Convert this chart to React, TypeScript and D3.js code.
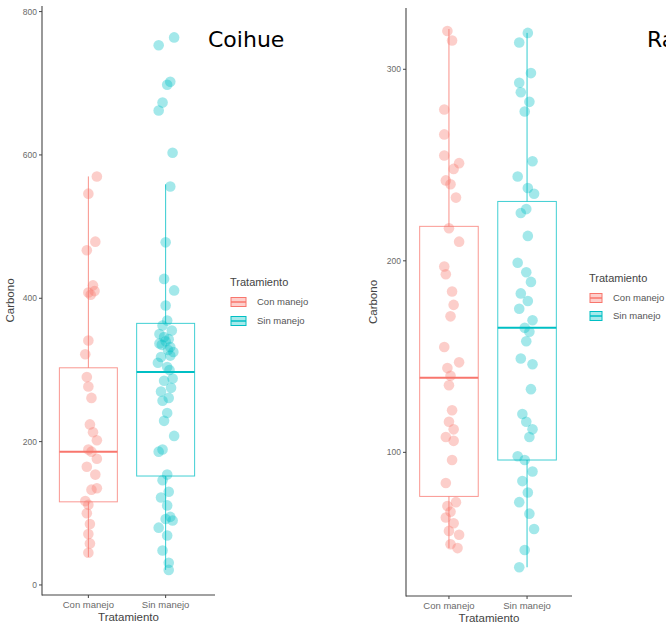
import React from "react";
import * as d3 from "d3";

const categories = ["Con manejo", "Sin manejo"];
const colors = ["#F8766D", "#00BFC4"];

// Coihue panel
const coihueTicks = [0, 200, 400, 600, 800];
const coihueQ1 = [116, 152];
const coihueMedian = [186, 297];
const coihueQ3 = [303, 365];
const coihueLow = [39, 21];
const coihueHigh = [570, 559];
const coihueConValues = [570, 546, 479, 467, 418, 410, 405, 408, 341, 322, 290, 277, 261, 224, 213, 202, 189, 186, 176, 165, 154, 135, 133, 117, 112, 100, 85, 71, 58, 45];
const coihueConJitter = [0.11, 0, 0.09, -0.02, 0.06, 0.08, 0.03, 0, 0, -0.04, -0.02, 0, 0.04, 0.02, 0.06, 0.11, 0, 0.04, 0.11, -0.02, 0.09, 0.11, 0.04, -0.04, 0, -0.02, 0.02, 0, 0.02, 0];
const coihueSinValues = [764, 753, 702, 698, 673, 662, 603, 556, 478, 427, 411, 390, 369, 362, 355, 350, 346, 343, 340, 337, 335, 332, 328, 325, 320, 318, 310, 304, 300, 288, 285, 275, 270, 261, 257, 240, 229, 208, 189, 186, 154, 146, 130, 122, 111, 95, 92, 90, 80, 69, 48, 31, 21];
const coihueSinJitter = [0.11, -0.09, 0.06, 0.02, -0.04, -0.09, 0.09, 0.06, 0, -0.02, 0.11, 0, 0.02, -0.04, 0.08, -0.08, -0.02, 0.04, 0, -0.08, -0.05, 0.06, 0.03, 0.1, 0.06, -0.06, -0.1, 0.02, 0.05, 0.09, -0.02, 0.07, -0.06, 0.04, -0.04, 0.02, -0.02, 0.11, -0.04, -0.09, 0.02, -0.04, 0.04, -0.06, 0.02, 0.06, 0, 0.09, -0.09, 0.02, -0.04, 0.04, 0.04];

// Raulí panel
const rauliTicks = [100, 200, 300];
const rauliQ1 = [77, 96];
const rauliMedian = [139, 165];
const rauliQ3 = [218, 231];
const rauliLow = [50, 40];
const rauliHigh = [321, 319];
const rauliConValues = [320, 315, 279, 266, 255, 251, 248, 242, 240, 233, 217, 210, 197, 193, 184, 177, 171, 155, 147, 144, 140, 135, 122, 116, 112, 108, 106, 96, 84, 74, 72, 69, 66, 63, 59, 57, 52, 50];
const rauliConJitter = [-0.02, 0.04, -0.06, -0.06, -0.06, 0.13, 0.06, -0.04, 0.02, 0.09, 0, 0.13, -0.06, -0.04, 0.04, 0.06, 0.02, -0.06, 0.13, -0.02, 0.02, 0, 0.04, 0, 0.06, -0.04, 0.06, 0.04, -0.04, 0.09, -0.02, 0.02, -0.04, 0.06, 0, 0.13, 0.02, 0.11];
const rauliSinValues = [319, 314, 298, 293, 288, 283, 278, 252, 244, 238, 235, 227, 225, 213, 199, 194, 189, 183, 179, 175, 169, 165, 163, 158, 149, 146, 133, 120, 116, 112, 108, 98, 96, 90, 85, 79, 74, 68, 60, 49, 40];
const rauliSinJitter = [0.01, -0.1, 0.05, -0.1, -0.08, 0.03, -0.03, 0.07, -0.12, 0.01, 0.09, -0.01, -0.08, 0.01, -0.12, -0.01, 0.05, -0.08, 0.01, -0.1, 0.07, -0.03, 0.03, -0.01, -0.08, 0.07, 0.05, -0.06, -0.01, 0.07, 0.03, -0.12, -0.03, 0.07, -0.06, 0.01, -0.1, 0.03, 0.09, -0.03, -0.1];

const FONT = "'Liberation Sans', Arial, sans-serif";

type PanelProps = {
  title: string;
  titleX: number;
  axisLeft: number;
  axisRight: number;
  xRange: [number, number];
  xPadding: number;
  yDomain: [number, number];
  yRange: [number, number];
  axisTop: number;
  ticks: number[];
  q1: number[];
  med: number[];
  q3: number[];
  low: number[];
  high: number[];
  values: number[][];
  jitter: number[][];
  yTitleX: number;
  legendX: number;
  legendY: number;
  legendGap: number;
  keyW: number;
  labelX: number;
};

function Panel(p: PanelProps) {
  const x = d3.scalePoint<string>().domain(categories).range(p.xRange).padding(p.xPadding);
  const y = d3.scaleLinear().domain(p.yDomain).range(p.yRange);
  const step = x.step();
  const halfBox = step * 0.375;
  const bottom = p.yRange[0];
  const midX = (p.axisLeft + p.axisRight) / 2;
  return (
    <g>
      <g filter="url(#soft)">
        {categories.map((c, i) => {
          const cx = x(c)!;
          return (
            <g key={c}>
              <line x1={cx} x2={cx} y1={y(p.high[i])} y2={y(p.q3[i])} stroke={colors[i]} strokeOpacity={0.8} strokeWidth={1} />
              <line x1={cx} x2={cx} y1={y(p.q1[i])} y2={y(p.low[i])} stroke={colors[i]} strokeOpacity={0.8} strokeWidth={1} />
              <rect x={cx - halfBox} width={halfBox * 2} y={y(p.q3[i])} height={y(p.q1[i]) - y(p.q3[i])} fill="none" stroke={colors[i]} strokeOpacity={0.75} strokeWidth={1} />
              <line x1={cx - halfBox} x2={cx + halfBox} y1={y(p.med[i])} y2={y(p.med[i])} stroke={colors[i]} strokeWidth={2} />
            </g>
          );
        })}
        {categories.map((c, i) => (
          <g key={"pts" + c}>
            {p.values[i].map((v, j) => (
              <circle key={j} cx={x(c)! + p.jitter[i][j] * step} cy={y(v)} r={5.3} fill={colors[i]} fillOpacity={0.36} />
            ))}
          </g>
        ))}
      </g>
      {/* axes */}
      <line x1={p.axisLeft} x2={p.axisLeft} y1={p.axisTop} y2={bottom + 0.5} stroke="#444" strokeWidth={1.1} />
      <line x1={p.axisLeft} x2={p.axisRight} y1={bottom} y2={bottom} stroke="#444" strokeWidth={1.1} />
      {p.ticks.map((t) => (
        <g key={t}>
          <line x1={p.axisLeft - 3} x2={p.axisLeft} y1={y(t)} y2={y(t)} stroke="#444" />
          <text x={p.axisLeft - 5} y={y(t)} dy="0.35em" textAnchor="end" fontSize={8.5} fill="#6a6a6a" fontFamily={FONT}>{t}</text>
        </g>
      ))}
      {categories.map((c) => (
        <g key={"xt" + c}>
          <line x1={x(c)} x2={x(c)} y1={bottom} y2={bottom + 3} stroke="#444" />
          <text x={x(c)} y={bottom + 12.5} textAnchor="middle" fontSize={9.5} fill="#6a6a6a" fontFamily={FONT}>{c}</text>
        </g>
      ))}
      <text x={midX} y={bottom + 25.5} textAnchor="middle" fontSize={11.5} fill="#444" fontFamily={FONT}>Tratamiento</text>
      <text transform={`translate(${p.yTitleX},${(p.axisTop + bottom) / 2}) rotate(-90)`} textAnchor="middle" fontSize={11.5} fill="#444" fontFamily={FONT}>Carbono</text>
      {/* legend */}
      <text x={p.legendX} y={p.legendY} fontSize={11} fill="#444" fontFamily={FONT}>Tratamiento</text>
      {categories.map((c, i) => {
        const kc = p.legendY + 16 + i * p.legendGap;
        return (
          <g key={"lg" + c}>
            <rect x={p.legendX + 1} y={kc - 4.5} width={p.keyW} height={9} fill={colors[i]} fillOpacity={0.35} stroke={colors[i]} strokeWidth={1} />
            <line x1={p.legendX + 1} x2={p.legendX + 1 + p.keyW} y1={kc} y2={kc} stroke={colors[i]} strokeWidth={1.5} />
            <text x={p.labelX} y={kc} dy="0.35em" fontSize={9.5} fill="#555" fontFamily={FONT}>{c}</text>
          </g>
        );
      })}
      <text x={p.titleX} y={47} fontSize={22} fill="#000" fontFamily="'DejaVu Sans', sans-serif">{p.title}</text>
    </g>
  );
}

export default function App() {
  return (
    <svg width={666} height={625} style={{ position: "fixed", left: 0, top: 0, background: "#fff" }}>
      <defs>
        <filter id="soft" x="-5%" y="-5%" width="110%" height="110%">
          <feGaussianBlur stdDeviation={0.6} />
        </filter>
      </defs>
      <rect width={666} height={625} fill="#fff" />
      <Panel
        title="Coihue"
        titleX={208}
        axisLeft={42}
        axisRight={215}
        xRange={[42, 212]}
        xPadding={0.6}
        yDomain={[-14, 805]}
        yRange={[595, 8]}
        axisTop={6}
        ticks={coihueTicks}
        q1={coihueQ1}
        med={coihueMedian}
        q3={coihueQ3}
        low={coihueLow}
        high={coihueHigh}
        values={[coihueConValues, coihueSinValues]}
        jitter={[coihueConJitter, coihueSinJitter]}
        yTitleX={14}
        legendX={230}
        legendY={286}
        legendGap={19}
        keyW={15}
        labelX={257}
      />
      <Panel
        title="Raulí"
        titleX={647}
        axisLeft={406}
        axisRight={572}
        xRange={[406, 570]}
        xPadding={0.55}
        yDomain={[25, 332]}
        yRange={[596, 8]}
        axisTop={8}
        ticks={rauliTicks}
        q1={rauliQ1}
        med={rauliMedian}
        q3={rauliQ3}
        low={rauliLow}
        high={rauliHigh}
        values={[rauliConValues, rauliSinValues]}
        jitter={[rauliConJitter, rauliSinJitter]}
        yTitleX={377}
        legendX={589}
        legendY={282}
        legendGap={18}
        keyW={12}
        labelX={613}
      />
    </svg>
  );
}
